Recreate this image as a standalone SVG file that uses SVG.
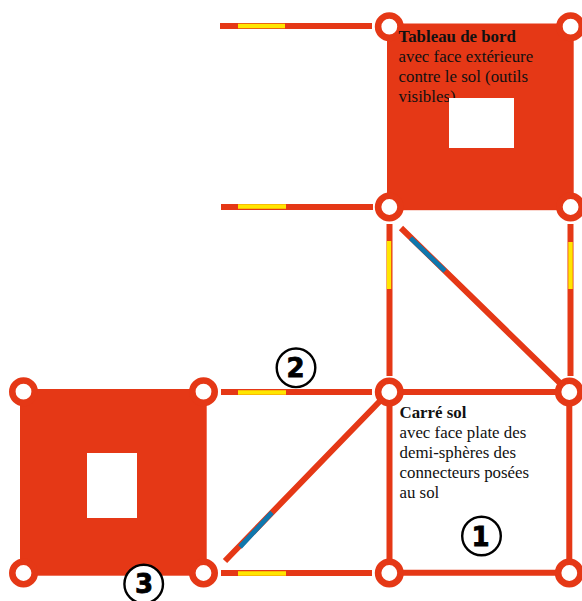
<svg xmlns="http://www.w3.org/2000/svg" width="582" height="601" viewBox="0 0 582 601">
<defs><style>
.bar{stroke:#e53816;stroke-width:6;fill:none}
.y{stroke:#ffe600;stroke-width:4.4;fill:none}
.b{stroke:#0f77ad;stroke-width:4.800;fill:none}
.ring{fill:#fff;stroke:#e53816;stroke-width:6.600}
.sq{fill:#e53816}
.t{font-family:"Liberation Serif",serif;font-size:16.850px;fill:#111}
.tb{font-weight:700}
.c{fill:#fff;stroke:#000;stroke-width:2.400}
.n{font-family:"DejaVu Sans",sans-serif;font-size:26px;font-weight:700;text-anchor:middle;stroke:#000;stroke-width:0.800}
</style></defs>
<g id="connectors">
<path class="bar" d="M220 26H372M221 207H373M221 392H372M221 573H372M389.5 224V376M570.5 224V376M401 228L561 384M225 561L381 400"/>
<path class="bar" d="M389 392H569.300M389 572.700H569.300M389.500 392V573M569.300 392V573"/>
<path class="y" d="M238 26H285M238 206.500H286M238 392.500H286M238 573.500H286M389 241V289M570.500 242V289"/>
<path class="b" d="M410.500 238L445 271M240 547L272 512.500"/>
</g>
<g id="tableau-de-bord">
<rect class="sq" x="387" y="23.500" width="186.700" height="186.700"/>
<circle class="ring" cx="389.300" cy="26.700" r="11.200"/>
<circle class="ring" cx="570.600" cy="26.700" r="11.200"/>
<circle class="ring" cx="389.300" cy="207" r="11.200"/>
<circle class="ring" cx="570.600" cy="207" r="11.200"/>
<text class="t" x="398.500" y="42"><tspan class="tb">Tableau de bord</tspan><tspan x="398.500" dy="20">avec face extérieure</tspan><tspan x="398.500" dy="20">contre le sol (outils</tspan><tspan x="398.500" dy="20">visibles)</tspan></text>
<rect x="449" y="98" width="65" height="50" fill="#fff"/>
</g>
<g id="carre-gauche">
<rect class="sq" x="20" y="389" width="186.700" height="186.700"/>
<rect x="87" y="453" width="50" height="65" fill="#fff"/>
<circle class="ring" cx="23.500" cy="391.700" r="11.200"/>
<circle class="ring" cx="203.500" cy="391.700" r="11.200"/>
<circle class="ring" cx="23.500" cy="573" r="11.200"/>
<circle class="ring" cx="203.500" cy="573" r="11.200"/>
</g>
<g id="carre-sol">
<circle class="ring" cx="389.300" cy="392" r="11.200"/>
<circle class="ring" cx="569.300" cy="392" r="11.200"/>
<circle class="ring" cx="389.300" cy="573" r="11.200"/>
<circle class="ring" cx="569.300" cy="573" r="11.200"/>
<text class="t" x="399.500" y="418"><tspan class="tb">Carré sol</tspan><tspan x="399.500" dy="20">avec face plate des</tspan><tspan x="399.500" dy="20">demi-sphères des</tspan><tspan x="399.500" dy="20">connecteurs posées</tspan><tspan x="399.500" dy="20">au sol</tspan></text>
</g>
<g id="n1"><circle class="c" cx="481.500" cy="536" r="19.300"/><text class="n" x="480.500" y="545.500">1</text></g>
<g id="n2"><circle class="c" cx="296" cy="367.800" r="19.300"/><text class="n" x="295.500" y="376.700">2</text></g>
<g id="n3"><circle class="c" cx="143.700" cy="584" r="19.300"/><text class="n" x="144" y="593">3</text></g>
</svg>
